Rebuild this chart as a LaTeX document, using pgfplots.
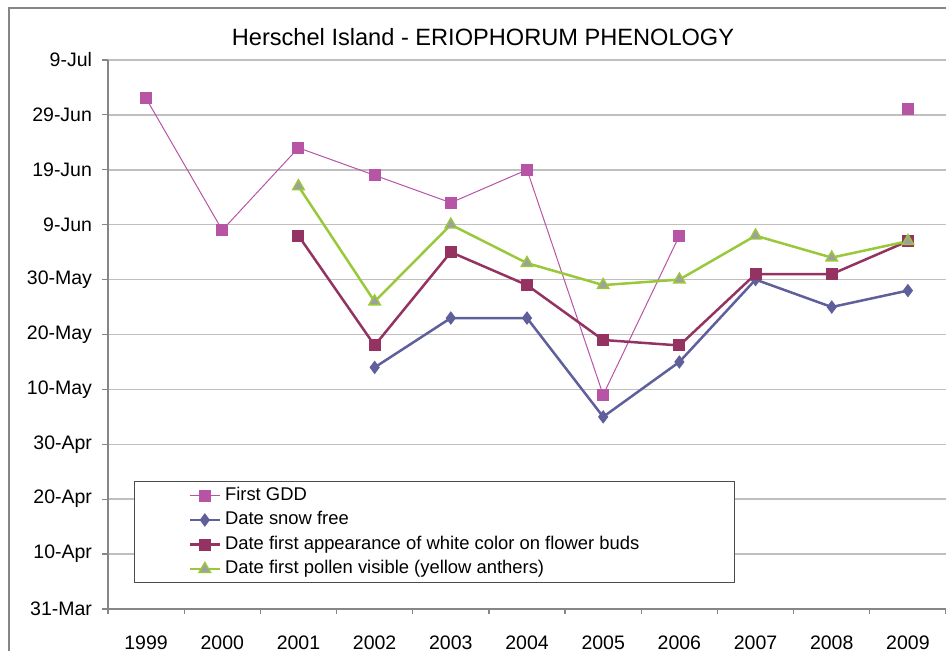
\documentclass[border=0pt]{standalone}
\usepackage{fontspec}
\setmainfont{Liberation Sans}
\usepackage{pgfplots}
\pgfplotsset{compat=1.18}
\definecolor{gddc}{HTML}{B854A6}
\definecolor{snowc}{HTML}{5F5F9C}
\definecolor{whitec}{HTML}{943362}
\definecolor{pollenc}{HTML}{99C93A}
\definecolor{gridc}{HTML}{BFBFBF}
\definecolor{axc}{HTML}{868686}
\begin{document}
\begin{tikzpicture}
  \useasboundingbox (0pt,0pt) rectangle (473pt,325.5pt);
  \draw[axc, line width=0.6pt] (4.5pt,-10pt) -- (4.5pt,321.5pt) -- (490pt,321.5pt);
  \node[anchor=base, inner sep=0pt, font=\fontsize{11.8}{13}\selectfont]
    at (241.5pt,302.5pt) {Herschel Island - ERIOPHORUM PHENOLOGY};
  \begin{axis}[
    at={(54pt,21pt)}, anchor=south west,
    scale only axis, width=419pt, height=274.5pt,
    xmin=1998.5, xmax=2009.5, ymin=0, ymax=100,
    axis x line*=bottom, axis y line*=left,
    axis line style={draw=axc, line width=0.6pt, -},
    xtick={1999,2000,2001,2002,2003,2004,2005,2006,2007,2008,2009},
    xticklabels={1999,2000,2001,2002,2003,2004,2005,2006,2007,2008,2009},
    minor xtick={1998.5,1999.5,2000.5,2001.5,2002.5,2003.5,2004.5,2005.5,2006.5,2007.5,2008.5,2009.5},
    ytick={0,10,20,30,40,50,60,70,80,90,100},
    yticklabels={31-Mar,10-Apr,20-Apr,30-Apr,10-May,20-May,30-May,9-Jun,19-Jun,29-Jun,9-Jul},
    tick align=outside,
    x tick style={draw=none},
    minor x tick style={draw=axc, line width=0.6pt},
    minor tick length=2.5pt,
    y tick style={draw=axc, line width=0.6pt},
    major tick length=3pt,
    ymajorgrids,
    major grid style={draw=gridc, line width=0.75pt},
    tick label style={font=\fontsize{9.75}{11}\selectfont},
    /pgf/number format/assume math mode=true,
    xticklabel style={yshift=-7pt},
    yticklabel style={xshift=-1.5pt},
    unbounded coords=jump,
    clip=false,
    legend cell align=left,
    legend image code/.code={\draw[mark repeat=2,mark phase=2] plot coordinates {(0pt,0pt) (7.5pt,0pt) (15pt,0pt)};},
    legend style={at={(0.031,0.233)}, anchor=north west,
      draw=black!70, line width=0.6pt, fill=white,
      inner xsep=27pt, inner ysep=0.8pt, row sep=0pt,
      font=\fontsize{9.2}{11}\selectfont,
      nodes={inner ysep=1.25pt, text height=7.3pt, text depth=2.45pt}},
  ]
    \addplot[gddc, line width=0.5pt, mark=square*, mark size=2.75pt,
      mark options={fill=gddc, draw=gddc}] coordinates {
      (1999,93) (2000,69) (2001,84) (2002,79) (2003,74) (2004,80)
      (2005,39) (2006,68) (2007,nan) (2008,nan) (2009,91)};
    \addlegendentry{First GDD}
    \addplot[snowc, line width=1.25pt, mark=diamond*, mark size=3pt,
      mark options={fill=snowc, draw=snowc, line width=0.5pt}] coordinates {
      (2002,44) (2003,53) (2004,53) (2005,35) (2006,45) (2007,60)
      (2008,55) (2009,58)};
    \addlegendentry{Date snow free}
    \addplot[whitec, line width=1.25pt, mark=square*, mark size=2.75pt,
      mark options={fill=whitec, draw=whitec, line width=0.5pt}] coordinates {
      (2001,68) (2002,48) (2003,65) (2004,59) (2005,49) (2006,48)
      (2007,61) (2008,61) (2009,67)};
    \addlegendentry{Date first appearance of white color on flower buds\hspace*{18.5pt}}
    \addplot[pollenc, line width=1.25pt, mark=triangle*, mark size=3.3pt,
      mark options={fill=gray!75, draw=pollenc, line width=0.7pt}] coordinates {
      (2001,77) (2002,56) (2003,70) (2004,63) (2005,59) (2006,60)
      (2007,68) (2008,64) (2009,67)};
    \addlegendentry{Date first pollen visible (yellow anthers)}
  \end{axis}
\end{tikzpicture}
\end{document}
